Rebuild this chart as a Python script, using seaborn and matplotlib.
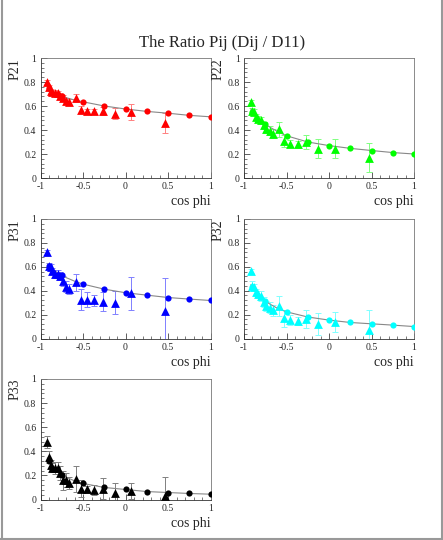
import numpy as np
import pandas as pd
import seaborn as sns
import matplotlib
matplotlib.use("Agg")
import matplotlib.pyplot as plt
from matplotlib.lines import Line2D
from matplotlib.ticker import MultipleLocator

# measured points (triangles) - cos phi positions shared by all panels
tri_x = [-0.92, -0.90, -0.88, -0.86, -0.83, -0.80, -0.765, -0.74, -0.70,
         -0.66, -0.585, -0.525, -0.455, -0.37, -0.265, -0.125, 0.065, 0.47]

p21_y = [0.80, 0.755, 0.725, 0.715, 0.71, 0.705, 0.685, 0.67, 0.645,
         0.63, 0.665, 0.57, 0.555, 0.555, 0.56, 0.535, 0.55, 0.46]
p21_err = [0.02, 0.02, 0.02, 0.02, 0.02, 0.02, 0.02, 0.025, 0.025,
           0.025, 0.035, 0.03, 0.02, 0.02, 0.035, 0.045, 0.065, 0.085]

p22_y = [0.63, 0.56, 0.55, 0.505, 0.495, 0.48, 0.44, 0.405, 0.395,
         0.37, 0.405, 0.31, 0.285, 0.28, 0.30, 0.245, 0.245, 0.17]
p22_err = [0.02, 0.02, 0.025, 0.025, 0.025, 0.03, 0.03, 0.03, 0.035,
           0.035, 0.06, 0.05, 0.03, 0.03, 0.06, 0.08, 0.08, 0.12]

p31_y = [0.72, 0.61, 0.595, 0.565, 0.54, 0.54, 0.525, 0.48, 0.435,
         0.415, 0.47, 0.325, 0.325, 0.318, 0.307, 0.30, 0.377, 0.23]
p31_err = [0.02, 0.025, 0.025, 0.025, 0.03, 0.03, 0.035, 0.04, 0.045,
           0.045, 0.07, 0.09, 0.065, 0.05, 0.08, 0.095, 0.14, 0.28]

p32_y = [0.565, 0.44, 0.43, 0.385, 0.37, 0.355, 0.307, 0.27, 0.257,
         0.237, 0.27, 0.168, 0.154, 0.148, 0.162, 0.12, 0.14, 0.075]
p32_err = [0.02, 0.045, 0.03, 0.03, 0.03, 0.04, 0.04, 0.04, 0.045,
           0.045, 0.085, 0.07, 0.04, 0.035, 0.075, 0.09, 0.085, 0.16]

p33_y = [0.48, 0.355, 0.29, 0.265, 0.26, 0.26, 0.22, 0.16, 0.16,
         0.14, 0.17, 0.09, 0.083, 0.077, 0.09, 0.05, 0.07, 0.025]
p33_err = [0.05, 0.05, 0.04, 0.04, 0.05, 0.05, 0.06, 0.08, 0.06,
           0.05, 0.11, 0.07, 0.03, 0.04, 0.085, 0.09, 0.065, 0.165]

# fitted curve (gray line), dots drawn at the grid points
fit_x = [-0.92, -0.9, -0.85, -0.8, -0.75, -0.7, -0.6, -0.5, -0.25, 0.0, 0.25, 0.5, 0.75, 1.0]
dot_x = [-0.9, -0.75, -0.5, -0.25, 0.0, 0.25, 0.5, 0.75, 1.0]

p21_fit = [0.765, 0.75, 0.72, 0.70, 0.685, 0.67, 0.65, 0.635, 0.60, 0.575, 0.555, 0.54, 0.522, 0.51]
p22_fit = [0.575, 0.55, 0.51, 0.475, 0.45, 0.425, 0.385, 0.352, 0.30, 0.27, 0.247, 0.229, 0.212, 0.20]
p31_fit = [0.625, 0.61, 0.575, 0.55, 0.53, 0.51, 0.48, 0.455, 0.413, 0.383, 0.363, 0.343, 0.33, 0.318]
p32_fit = [0.45, 0.43, 0.38, 0.345, 0.315, 0.29, 0.25, 0.223, 0.18, 0.154, 0.134, 0.123, 0.112, 0.10]
p33_fit = [0.345, 0.32, 0.27, 0.235, 0.205, 0.185, 0.155, 0.133, 0.10, 0.083, 0.066, 0.058, 0.05, 0.044]

panels = [
    ("P21", p21_y, p21_err, p21_fit, "#ff0000", "#ff8080"),
    ("P22", p22_y, p22_err, p22_fit, "#00ff00", "#80ff80"),
    ("P31", p31_y, p31_err, p31_fit, "#0000ff", "#8080ff"),
    ("P32", p32_y, p32_err, p32_fit, "#00ffff", "#80ffff"),
    ("P33", p33_y, p33_err, p33_fit, "#000000", "#808080"),
]

sns.set_theme(style="white")
plt.rcParams["font.family"] = ["Liberation Serif", "DejaVu Serif"]

fig = plt.figure(figsize=(4.43, 5.40), dpi=100)
W, H = 443.0, 540.0
# pixel boxes: left, top, right, bottom
boxes = [(40.5, 58, 210.5, 178), (244, 58, 414, 178),
         (40.5, 219, 210.5, 338.5), (244, 219, 414, 338.5),
         (40.5, 379, 210.5, 499.5)]

for (name, ys, errs, fit, col, ecol), (l, t, r, b) in zip(panels, boxes):
    ax = fig.add_axes([l / W, 1 - b / H, (r - l) / W, (b - t) / H])
    ax.errorbar(tri_x, ys, yerr=errs, fmt="none", ecolor=ecol,
                elinewidth=0.7, capsize=2.4, capthick=0.7, zorder=2)
    sns.lineplot(x=fit_x, y=fit, ax=ax, color="#888888", linewidth=0.8,
                 sort=False, zorder=3)
    dot_y = [fit[fit_x.index(v)] for v in dot_x]
    sns.scatterplot(x=dot_x, y=dot_y, ax=ax, color=col, marker="o", s=20,
                    edgecolor=col, linewidth=0, zorder=4)
    sns.scatterplot(x=tri_x, y=ys, ax=ax, color=col, marker="^", s=40,
                    edgecolor=col, linewidth=0, zorder=5)
    ax.set_xlim(-1, 1)
    ax.set_ylim(0, 1)
    ax.xaxis.set_minor_locator(MultipleLocator(0.1))
    ax.yaxis.set_minor_locator(MultipleLocator(0.04))
    ax.set_xticks([-1, -0.5, 0, 0.5, 1])
    ax.set_xticklabels(["-1", "-0.5", "0", "0.5", "1"])
    ax.set_yticks([0, 0.2, 0.4, 0.6, 0.8, 1])
    ax.set_yticklabels(["0", "0.2", "0.4", "0.6", "0.8", "1"])
    ax.tick_params(which="major", direction="in", length=4, width=0.6,
                   labelsize=7, pad=3, color="#444444", left=True, bottom=True)
    ax.tick_params(which="minor", direction="in", length=2, width=0.5,
                   color="#444444", left=True, bottom=True)
    for s in ax.spines.values():
        s.set_color("#777777")
        s.set_linewidth(0.6)
    ax.spines["left"].set_color("#333333")
    ax.spines["bottom"].set_color("#333333")
    ax.set_xlabel("cos phi", fontsize=10, loc="right", labelpad=3)
    ax.set_ylabel(name, fontsize=10, loc="top", labelpad=2)
    ax.set_facecolor("white")

fig.text(0.502, 1 - 43 / H, "The Ratio Pij (Dij / D11)", ha="center",
         va="center", fontsize=12)

# gray page border (left, right, bottom)
fig.add_artist(Line2D([1.5 / W, 1.5 / W], [0, 1], color="#999999", lw=1.5))
fig.add_artist(Line2D([441.5 / W, 441.5 / W], [0, 1], color="#999999", lw=1.5))
fig.add_artist(Line2D([0, 442 / W], [1.2 / H, 1.2 / H], color="#999999", lw=1.5))

fig.savefig("out.png", dpi=100)
